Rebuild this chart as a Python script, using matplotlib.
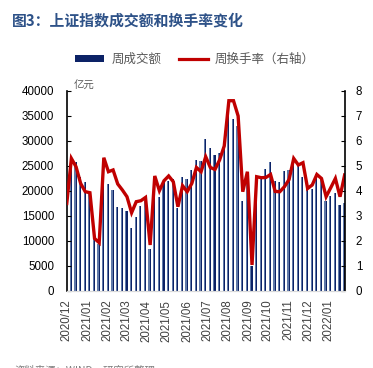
import numpy as np
import pandas as pd
import matplotlib
matplotlib.use('Agg')
import matplotlib.pyplot as plt
from matplotlib.patches import Patch
from matplotlib.lines import Line2D

plt.rcParams['font.family'] = ['Liberation Sans', 'Noto Sans CJK SC', 'DejaVu Sans']

# weekly data, first week ending 2020-12-04
start_date = '2020-12-04'
turnover = [16300, 25500, 25700, 22700, 21800, 19700, 10300, 9300, 24500, 21300,
            20100, 16700, 16500, 15900, 12600, 14800, 16900, 18000, 8300, 19100,
            18700, 21800, 22000, 22300, 16500, 22700, 22300, 24100, 26100, 25900,
            30300, 28500, 27100, 27500, 29000, 36800, 34300, 33000, 17900, 23500,
            5000, 22800, 22500, 24300, 25700, 22000, 21800, 23900, 24100, 25800,
            25100, 22800, 20500, 20300, 23300, 22300, 18000, 19000, 19600, 17100,
            17500]
rate = [3.49, 5.29, 4.96, 4.29, 3.96, 3.92, 2.09, 1.92, 5.32, 4.76,
        4.83, 4.27, 4.03, 3.76, 3.12, 3.56, 3.60, 3.73, 1.83, 4.59,
        4.00, 4.40, 4.59, 4.36, 3.36, 4.20, 3.96, 4.29, 4.93, 4.76,
        5.36, 4.93, 4.85, 5.23, 5.79, 7.60, 7.60, 6.99, 3.96, 4.76,
        1.03, 4.56, 4.52, 4.53, 4.65, 3.97, 3.96, 4.16, 4.45, 5.29,
        5.03, 5.12, 4.09, 4.23, 4.65, 4.49, 3.76, 4.12, 4.49, 3.76,
        4.63]
month_labels = ['2020/12', '2021/01', '2021/02', '2021/03', '2021/04', '2021/05',
                '2021/06', '2021/07', '2021/08', '2021/09', '2021/10', '2021/11',
                '2021/12', '2022/01']

dates = pd.date_range(start_date, periods=len(turnover), freq='7D')
month_pos = pd.to_datetime([m + '/04' for m in month_labels], format='%Y/%m/%d')

fig = plt.figure(figsize=(3.73, 3.68), dpi=100)
ax = fig.add_axes([0.179, 0.21, 0.745, 0.5435])

# bars: light body with a dark right part
ax.bar(dates - pd.Timedelta(days=2.6), turnover, width=3.4, align='edge',
       color='#6079a9', linewidth=0)
ax.bar(dates, turnover, width=1.6, color='#0c2266', linewidth=0)
ax.set_ylim(0, 40000)
ax.set_yticks(np.arange(0, 40001, 5000))
ax.set_xlim(dates[0], dates[-1])
ax.set_xticks(month_pos)
ax.set_xticklabels(month_labels, rotation=90, color='#404040', fontsize=8.3)
ax.tick_params(axis='x', length=0, pad=6.5)
ax.tick_params(axis='y', direction='in', length=3, width=0.8, labelsize=8.3, pad=9)

ax2 = ax.twinx()
ax2.plot(dates, rate, color='#c00000', lw=2.4, solid_joinstyle='miter')
ax2.set_ylim(0, 8)
ax2.set_yticks(np.arange(0, 9, 1))
ax2.tick_params(axis='y', direction='in', length=3, width=0.8, labelsize=8.3, pad=8)

for a in (ax, ax2):
    a.spines['top'].set_visible(False)
    a.spines['bottom'].set_color('#d9d9d9')
ax.spines['right'].set_visible(False)
ax2.spines['left'].set_visible(False)
ax.spines['left'].set_linewidth(1.2)
ax2.spines['right'].set_linewidth(1.2)

fig.text(12/373, 1 - 20/368, '图3：上证指数成交额和换手率变化', fontsize=10.7,
         fontweight='bold', color='#2e5288', family=['Noto Sans CJK SC'], va='center')
fig.text(74/373, 1 - 86/368, '亿元', fontsize=7.5, color='#595959',
         family=['Noto Sans CJK SC'], va='center')

handles = [Patch(facecolor='#0c2266', edgecolor='none'),
           Line2D([], [], color='#c00000', lw=2.3)]
fig.legend(handles, ['周成交额', '周换手率（右轴）'], loc='center',
           bbox_to_anchor=(0.523, 0.838), ncol=2, frameon=False,
           prop={'family': 'Noto Sans CJK SC', 'size': 9}, labelcolor='#595959',
           handlelength=2.3, handleheight=0.5, handletextpad=0.6, columnspacing=1.4)

# source line, cut off at the bottom edge as in the original
fig.text(15/373, 2/368, '资料来源：WIND，研究所整理', fontsize=7.5, color='#7f7f7f',
         family=['Noto Sans CJK SC'], va='top')

fig.savefig('out.png', dpi=100)
